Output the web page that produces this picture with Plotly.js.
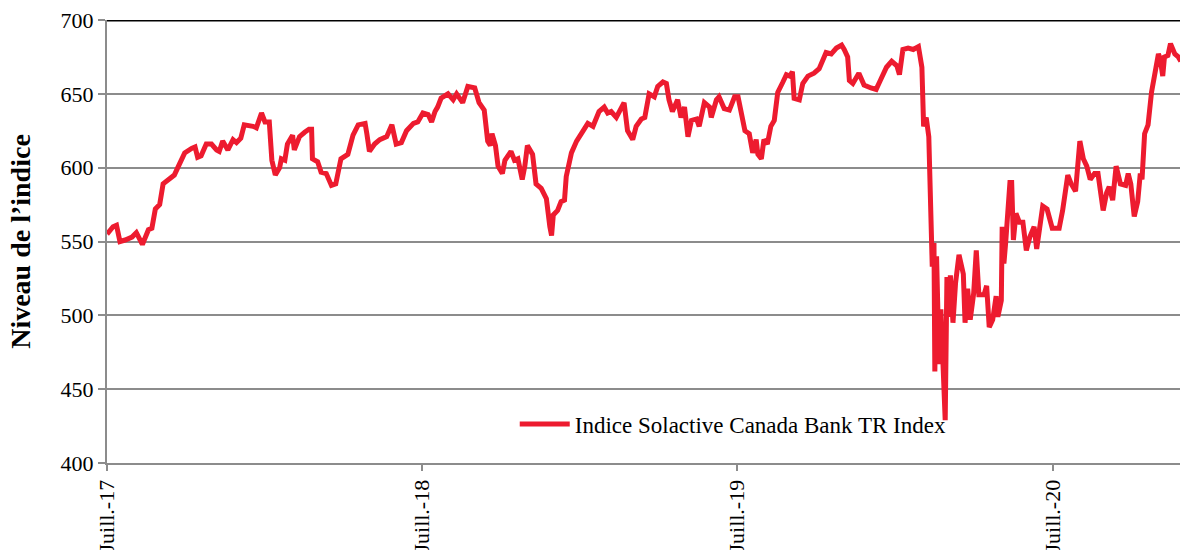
<!DOCTYPE html>
<html>
<head>
<meta charset="utf-8">
<script src="https://cdn.plot.ly/plotly-3.0.1.min.js"></script>
<style>html,body{margin:0;padding:0;background:#fff;}#chart{width:1180px;height:550px;}</style>
</head>
<body>
<div id="chart"></div>
<script>
const seriesName = "Indice Solactive Canada Bank TR Index";
const yAxisTitle = "Niveau de l’indice";
const tickDates = ["2017-07-01", "2018-07-01", "2019-07-01", "2020-07-01"];
const tickLabels = ["Juill.-17", "Juill.-18", "Juill.-19", "Juill.-20"];

const dates = [
"2017-07-01","2017-07-08","2017-07-12","2017-07-16","2017-07-22","2017-07-30","2017-08-04","2017-08-11","2017-08-18","2017-08-22",
"2017-08-26","2017-08-31","2017-09-04","2017-09-10","2017-09-17","2017-09-21","2017-09-29","2017-10-07","2017-10-11","2017-10-14",
"2017-10-18","2017-10-24","2017-10-30","2017-11-05","2017-11-08","2017-11-12","2017-11-18","2017-11-24","2017-11-28","2017-12-03",
"2017-12-07","2017-12-17","2017-12-21","2017-12-27","2017-12-31","2018-01-05","2018-01-08","2018-01-12","2018-01-17","2018-01-19",
"2018-01-23","2018-01-26","2018-02-01","2018-02-03","2018-02-09","2018-02-15","2018-02-20","2018-02-23","2018-02-24","2018-03-02",
"2018-03-06","2018-03-12","2018-03-18","2018-03-23","2018-03-29","2018-04-06","2018-04-12","2018-04-18","2018-04-26","2018-04-28",
"2018-05-01","2018-05-07","2018-05-13","2018-05-21","2018-05-27","2018-06-01","2018-06-07","2018-06-13","2018-06-21","2018-06-26",
"2018-07-02","2018-07-08","2018-07-12","2018-07-16","2018-07-19","2018-07-23","2018-07-31","2018-08-06","2018-08-10","2018-08-17",
"2018-08-23","2018-08-31","2018-09-05","2018-09-11","2018-09-15","2018-09-18","2018-09-20","2018-09-24","2018-09-27","2018-10-02",
"2018-10-05","2018-10-12","2018-10-16","2018-10-20","2018-10-25","2018-10-28","2018-10-31","2018-11-06","2018-11-10","2018-11-16",
"2018-11-22","2018-11-26","2018-11-28","2018-11-30","2018-12-05","2018-12-09","2018-12-13","2018-12-15","2018-12-21","2018-12-27",
"2019-01-03","2019-01-09","2019-01-15","2019-01-22","2019-01-28","2019-02-01","2019-02-05","2019-02-11","2019-02-20","2019-02-24",
"2019-03-02","2019-03-06","2019-03-12","2019-03-16","2019-03-21","2019-03-27","2019-03-31","2019-04-06","2019-04-10","2019-04-13",
"2019-04-17","2019-04-23","2019-04-27","2019-05-01","2019-05-05","2019-05-09","2019-05-15","2019-05-18","2019-05-24","2019-05-30",
"2019-06-01","2019-06-07","2019-06-10","2019-06-16","2019-06-22","2019-06-28","2019-07-02","2019-07-06","2019-07-10","2019-07-15",
"2019-07-19","2019-07-23","2019-07-25","2019-07-29","2019-08-01","2019-08-05","2019-08-09","2019-08-13","2019-08-17","2019-08-23",
"2019-08-27","2019-08-31","2019-09-03","2019-09-05","2019-09-11","2019-09-15","2019-09-21","2019-09-28","2019-10-04","2019-10-12",
"2019-10-18","2019-10-24","2019-10-30","2019-11-02","2019-11-06","2019-11-08","2019-11-12","2019-11-19","2019-11-25","2019-12-03",
"2019-12-09","2019-12-13","2019-12-21","2019-12-27","2020-01-02","2020-01-05","2020-01-09","2020-01-15","2020-01-21","2020-01-27",
"2020-01-31","2020-02-02","2020-02-05","2020-02-08","2020-02-11","2020-02-12","2020-02-14","2020-02-15","2020-02-17","2020-02-20",
"2020-02-22","2020-02-25","2020-02-27","2020-02-29","2020-03-02","2020-03-04","2020-03-07","2020-03-10","2020-03-14","2020-03-19",
"2020-03-21","2020-03-24","2020-03-27","2020-03-31","2020-04-03","2020-04-06","2020-04-12","2020-04-15","2020-04-18","2020-04-22",
"2020-04-26","2020-04-28","2020-05-02","2020-05-03","2020-05-05","2020-05-07","2020-05-09","2020-05-12","2020-05-14","2020-05-16",
"2020-05-19","2020-05-23","2020-05-27","2020-05-31","2020-06-04","2020-06-09","2020-06-12","2020-06-15","2020-06-19","2020-06-24",
"2020-06-30","2020-07-08","2020-07-12","2020-07-18","2020-07-22","2020-07-27","2020-08-01","2020-08-05","2020-08-09","2020-08-13",
"2020-08-18","2020-08-22","2020-08-24","2020-08-28","2020-09-01","2020-09-04","2020-09-08","2020-09-12","2020-09-17","2020-09-23",
"2020-09-26","2020-09-29","2020-10-03","2020-10-07","2020-10-10","2020-10-12","2020-10-15","2020-10-19","2020-10-23","2020-10-27",
"2020-10-31","2020-11-02","2020-11-05","2020-11-07","2020-11-11","2020-11-14","2020-11-19","2020-11-23","2020-11-26"
];

const values = [
555,560,561,550,551,553,556,548,558,559,
572,575,589,592,595,600,610,613,614,607,
608,616,616,612,611,618,612,619,617,620,
629,628,627,637,631,631,605,595,600,606,
605,616,622,612,621,624,626,626,606,604,
597,596,588,589,606,609,622,629,630,623,
611,616,619,621,629,616,617,625,630,631,
637,636,631,638,641,647,650,646,650,644,
655,654,644,639,618,615,623,615,601,596,
605,611,605,606,592,601,615,609,589,586,
579,560,554,568,571,577,578,594,610,618,
624,630,628,638,641,637,638,634,644,625,
619,628,633,634,650,648,655,658,657,646,
638,646,634,641,621,632,633,628,644,641,
634,646,648,640,639,648,648,638,625,623,
610,619,609,606,619,616,628,632,651,658,
663,662,665,647,646,657,662,664,667,678,
677,681,683,680,675,659,657,664,656,654,
653,658,668,672,669,663,680,681,680,682,
668,628,634,621,551,533,549,462,540,467,
504,465,429,526,499,527,495,522,541,528,
495,518,497,515,544,514,514,520,492,497,
513,499,510,560,535,549,570,590,590,551,
569,563,563,544,553,560,545,559,574,572,
559,559,571,595,589,584,618,606,601,592,
596,596,587,571,583,587,578,601,589,588,
596,589,567,577,596,592,623,629,651,662,
677,674,662,675,676,684,677,675,672
];

const serif = "Liberation Serif, Times New Roman, serif";

const trace = {
  type: "scatter",
  mode: "lines",
  x: dates,
  y: values,
  name: seriesName,
  line: { color: "#ED1B2F", width: 5 },
  showlegend: true
};

const layout = {
  width: 1180,
  height: 550,
  margin: { l: 107, r: 0, t: 20, b: 87 },
  paper_bgcolor: "#ffffff",
  plot_bgcolor: "#ffffff",
  font: { family: serif, color: "#000000", size: 22 },
  showlegend: true,
  legend: {
    x: 0.38, y: 0.088, xanchor: "left", yanchor: "middle",
    itemwidth: 50,
    bgcolor: "rgba(0,0,0,0)",
    font: { family: serif, size: 23, color: "#000" }
  },
  xaxis: {
    type: "date",
    range: ["2017-07-01", "2020-11-25"],
    showgrid: false,
    zeroline: false,
    showline: true,
    linecolor: "#8c8c8c",
    linewidth: 2,
    ticks: "outside",
    ticklen: 6,
    tickwidth: 2,
    tickcolor: "#8c8c8c",
    tickmode: "array",
    tickvals: tickDates,
    ticktext: tickLabels,
    tickangle: -90,
    tickfont: { family: serif, size: 22, color: "#000" },
    fixedrange: true
  },
  yaxis: {
    range: [400, 700],
    tickmode: "linear",
    tick0: 400,
    dtick: 50,
    showgrid: true,
    gridcolor: "#8c8c8c",
    gridwidth: 2,
    zeroline: false,
    showline: true,
    linecolor: "#8c8c8c",
    linewidth: 2,
    ticks: "outside",
    ticklen: 7,
    tickwidth: 2,
    tickcolor: "#8c8c8c",
    tickfont: { family: serif, size: 22, color: "#000" },
    title: { text: "<b>" + yAxisTitle + "</b>", font: { family: serif, size: 28, color: "#000" }, standoff: 22 },
    fixedrange: true
  },
  shapes: [
    { type: "line", xref: "paper", yref: "y", x0: 0, x1: 1, y0: 700, y1: 700,
      line: { color: "#000000", width: 3 } }
  ]
};

Plotly.newPlot("chart", [trace], layout, { displayModeBar: false, staticPlot: true });
</script>
</body>
</html>
